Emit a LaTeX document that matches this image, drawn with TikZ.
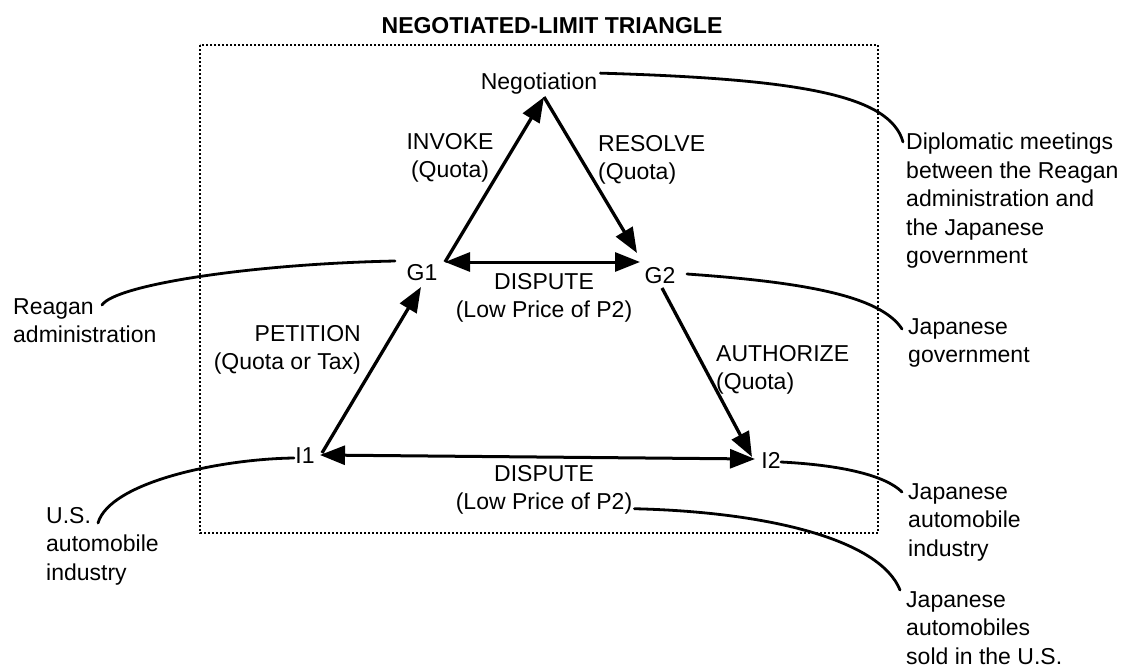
\documentclass[tikz,border=0pt]{standalone}
\usepackage{fontspec}
\setmainfont{Liberation Sans}
\usetikzlibrary{arrows.meta,calc}
\begin{document}
\begin{tikzpicture}[x=1pt,y=-1pt,
  txt/.style={inner sep=0pt, font=\fontsize{23}{28.5}\selectfont},
  lab/.style={txt, align=left, anchor=north west},
  pt/.style={txt, anchor=base},
  flow/.style={line width=3.3pt, -{Triangle[length=25pt,width=19pt]}},
  twoway/.style={line width=3pt, {Triangle[length=25pt,width=19pt]}-{Triangle[length=25pt,width=19pt]}},
  leader/.style={line width=2.8pt, line cap=round},
  dotframe/.style={line width=2.6pt, dash pattern=on 1.8pt off 2.2pt}]

\fill[white] (0,0) rectangle (1137,667);
\useasboundingbox (0,0) rectangle (1137,667);

% heading and dotted frame of the triangle
\node[txt, font=\bfseries\fontsize{23}{28}\selectfont, anchor=north] (title) at (552,17) {NEGOTIATED-LIMIT TRIANGLE};
\draw[dotframe] (200,45) rectangle (878,533);

% the five positions
\node[pt] (Neg) at (539,89) {Negotiation};
\node[pt] (G1) at (422,280) {G1};
\node[pt] (G2) at (660,283) {G2};
\node[pt] (I1) at (305,463) {I1};
\node[pt] (I2) at (771,468) {I2};

% relation labels
\node[txt, align=center, anchor=north] (invoke) at (450,133) {INVOKE\\(Quota)};
\node[lab] (resolve) at (598,135) {RESOLVE\\(Quota)};
\node[txt, align=center, anchor=north] (dispG) at (544,273) {DISPUTE\\(Low Price of P2)};
\node[txt, align=right, anchor=north east] (petition) at (361,325) {PETITION\\(Quota or Tax)};
\node[lab] (authorize) at (716,345) {AUTHORIZE\\(Quota)};
\node[txt, align=center, anchor=north] (dispI) at (544,465) {DISPUTE\\(Low Price of P2)};

% explanations of the positions
\node[lab] (reagan) at (13,298) {Reagan\\administration};
\node[lab] (usind) at (46,507) {U.S.\\automobile\\industry};
\node[lab] (dipl) at (906,133) {Diplomatic meetings\\between the Reagan\\administration and\\the Japanese\\government};
\node[lab] (jgov) at (908,318) {Japanese\\government};
\node[lab] (jind) at (908,483) {Japanese\\automobile\\industry};
\node[lab] (jcars) at (906,591) {Japanese\\automobiles\\sold in the U.S.};

% triangle arrows
\coordinate (apex) at ($(Neg.base)+(5,8)$);
\draw[flow] ($(G1.base)+(23,-18)$) -- (apex);
\draw[flow] (apex) -- ($(G2.base)+(-23,-30)$);
\draw[twoway] ($(G1.base)+(23,-18)$) -- ($(G2.base)+(-20,-21)$);
\draw[flow] ($(I1.base)+(17,-10)$) -- ($(G1.base)+(-1,7)$);
\draw[flow] ($(G2.base)+(2,5)$) -- ($(I2.base)+(-19,-11)$);
\draw[twoway] ($(I1.base)+(15,-8)$) -- ($(I2.base)+(-16,-9)$);

% leader curves to the explanations
\draw[leader] ($(Neg.north east)+(3,1)$) .. controls (800,79) and (890,95) .. ($(dipl.north west)+(-3,9)$);
\draw[leader] ($(G1.base)+(-27,-19)$) .. controls (250,264) and (115,285) .. ($(reagan.north west)+(89,7)$);
\draw[leader] ($(I1.base)+(-11,-5)$) .. controls (220,459) and (110,482) .. ($(usind.north west)+(52,16)$);
\draw[leader] ($(G2.base)+(27,-9)$) .. controls (800,282) and (880,295) .. ($(jgov.north west)+(-6,11)$);
\draw[leader] ($(I2.base)+(10,-6)$) .. controls (840,465) and (885,475) .. ($(jind.north west)+(-6,9)$);
\draw[leader] ($(dispI.south east)+(2,-6)$) .. controls (770,512) and (880,540) .. ($(jcars.north west)+(-6,-1)$);
\end{tikzpicture}
\end{document}
